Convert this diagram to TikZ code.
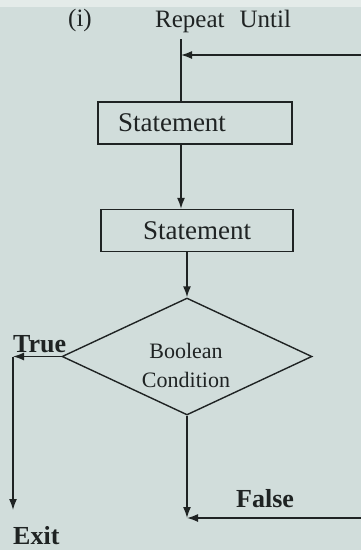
\documentclass[tikz,border=0pt]{standalone}
\usepackage{fontspec}
\setmainfont{Liberation Serif}
\usetikzlibrary{arrows.meta,shapes.geometric}
\definecolor{paper}{HTML}{D1DDDB}
\definecolor{paperedge}{HTML}{E4EBE9}
\definecolor{ink}{HTML}{1F2323}
\tikzset{
  flow/.style={draw=ink, line width=1.5pt, -{Latex[length=11pt,width=8pt]}},
  plain/.style={draw=ink, line width=1.5pt},
  stmtbox/.style={draw=ink, line width=1.4pt, rectangle, minimum height=42pt,
    inner ysep=0pt, font=\fontsize{27}{30}\selectfont, text=ink},
  decision/.style={draw=ink, line width=1.4pt, diamond, minimum width=250pt,
    minimum height=117pt, inner sep=0pt},
  lbl/.style={inner sep=0pt, text=ink, anchor=base west},
  title/.style={lbl, font=\fontsize{25}{28}\selectfont},
  branch/.style={lbl, font=\fontsize{26}{28}\selectfont\bfseries},
}
\begin{document}
\begin{tikzpicture}[x=1pt,y=-1pt]
% paper
\fill[paper] (0,0) rectangle (361,550);
\fill[paperedge] (0,0) rectangle (361,7);
\useasboundingbox (0,0) rectangle (361,550);

% headings
\node[title] (num) at (68,26) {(i)};
\node[title] (head) at (155,27) {Repeat\hspace{0.35em} Until};

% boxes and decision
\node[stmtbox, text width=154pt, align=left, inner xsep=20pt] (s1) at (195,123) {Statement};
\node[stmtbox, minimum width=192pt] (s2) at (197,230.5) {Statement};
\node[decision] (cond) at (187,356.5) {};
\node[inner sep=0pt, text=ink, align=center,
      font=\fontsize{22}{29}\selectfont] (condtext) at (186,365) {Boolean\\Condition};

% branch labels
\node[branch] (true) at (13,352) {True};
\node[branch] (false) at (236,507) {False};
\node[branch] (exit) at (13,544) {Exit};

% connector points
\coordinate (entry) at (181,39);
\coordinate (ret) at (361,55);
\coordinate (tcorner) at (13,356.5);
\coordinate (tend) at (13,510);
\coordinate (fend) at (187,518);
\coordinate (fin) at (361,518);

% connectors
\draw[plain] (entry) -- (s1.north -| entry);
\draw[flow] (ret) -- (ret -| entry);
\draw[flow] (s1.south -| entry) -- (s2.north -| entry);
\draw[flow] (s2.south -| cond.north) -- (cond.north);
\draw[flow] (cond.west) -- (tcorner);
\draw[flow] (tcorner) -- (tend);
\draw[flow] (cond.south) -- (fend);
\draw[flow] (fin) -- (fend);
\end{tikzpicture}
\end{document}
